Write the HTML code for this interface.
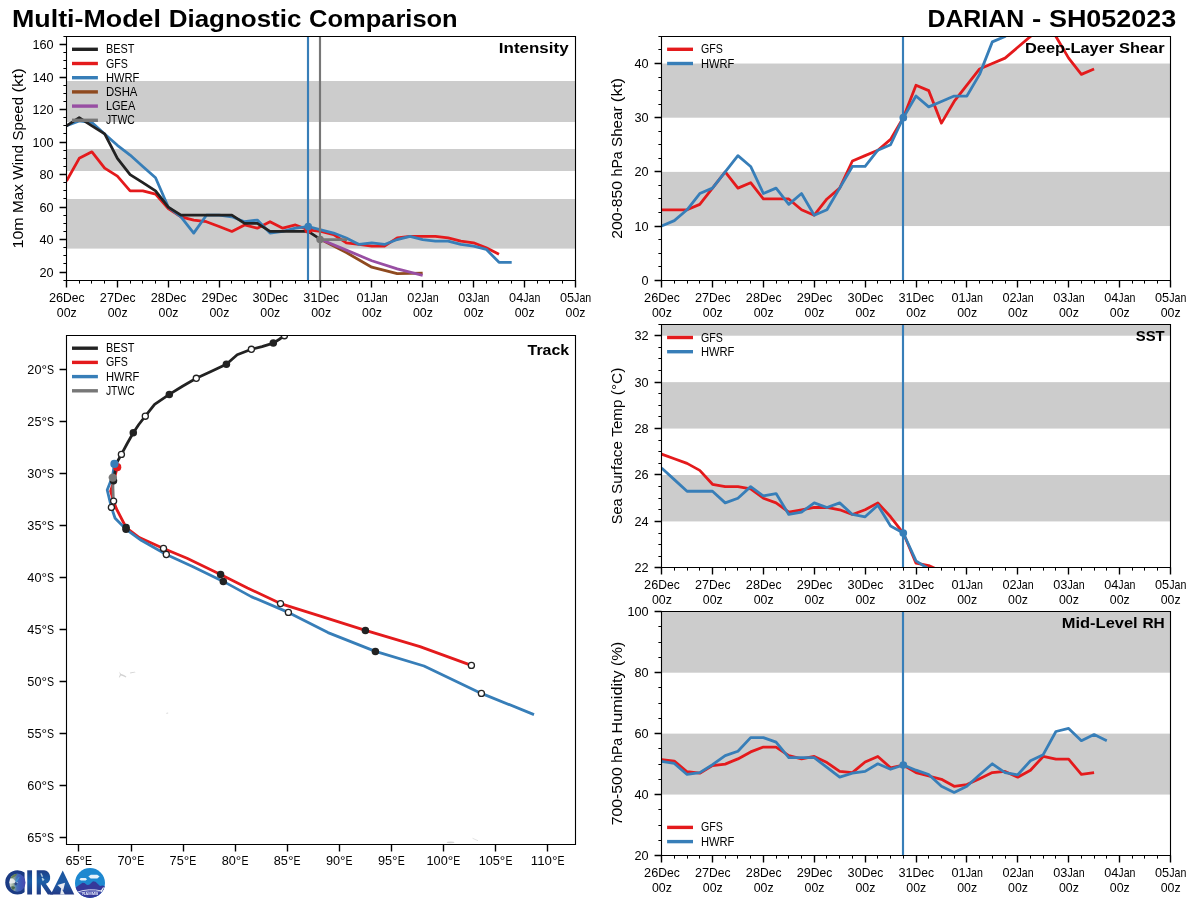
<!DOCTYPE html>
<html><head><meta charset="utf-8"><title>Multi-Model Diagnostic Comparison</title>
<style>html,body{margin:0;padding:0;background:#fff}svg{display:block;will-change:transform}text{font-family:"Liberation Sans",sans-serif}</style>
</head><body>
<svg width="1200" height="900" viewBox="0 0 1200 900">
<rect width="1200" height="900" fill="#fff"/>
<text y="27" font-size="23.55" font-weight="bold"><tspan x="12" textLength="148.98" lengthAdjust="spacingAndGlyphs">Multi-Model</tspan> <tspan x="168.72" textLength="132.69" lengthAdjust="spacingAndGlyphs">Diagnostic</tspan> <tspan x="309.14" textLength="148.52" lengthAdjust="spacingAndGlyphs">Comparison</tspan></text>
<text y="27" font-size="23.55" font-weight="bold"><tspan x="927.43" textLength="96.81" lengthAdjust="spacingAndGlyphs">DARIAN</tspan> <tspan x="1031.98" textLength="9.22" lengthAdjust="spacingAndGlyphs">-</tspan> <tspan x="1048.94" textLength="127.36" lengthAdjust="spacingAndGlyphs">SH052023</tspan></text>
<rect x="66.5" y="81" width="508.8" height="41" fill="#cccccc"/>
<rect x="66.5" y="149" width="508.8" height="22" fill="#cccccc"/>
<rect x="66.5" y="199" width="508.8" height="49.6" fill="#cccccc"/>
<clipPath id="c1"><rect x="66.5" y="36.45" width="508.8" height="243.75"/></clipPath>
<g clip-path="url(#c1)">
<polyline points="66.5,181.07 79.22,158.32 91.94,151.82 104.66,168.07 117.38,176.2 130.1,190.82 142.82,190.82 155.54,194.07 168.26,208.7 180.98,216.82 193.7,220.07 206.42,221.7 219.14,226.57 231.86,231.45 244.58,224.95 257.3,228.2 270.02,221.7 282.74,228.2 295.46,224.95 308.18,229.82 320.9,231.45 333.62,234.7 346.34,242.82 359.06,244.45 371.78,246.07 384.5,246.07 397.22,237.95 409.94,236.32 422.66,236.32 435.38,236.32 448.1,237.95 460.82,241.2 473.54,242.82 486.26,247.7 498.98,254.2" fill="none" stroke="#e41a1c" stroke-width="2.78" stroke-linecap="butt" stroke-linejoin="round"/>
<polyline points="66.5,125.82 79.22,120.95 91.94,122.57 104.66,133.95 117.38,145.32 130.1,155.07 142.82,166.45 155.54,177.82 168.26,207.07 180.98,216.82 193.7,233.07 206.42,215.2 219.14,215.2 231.86,216.82 244.58,221.7 257.3,220.07 270.02,233.07 282.74,231.45 295.46,228.2 308.18,226.57 320.9,229.82 333.62,233.07 346.34,237.95 359.06,244.45 371.78,242.82 384.5,244.45 397.22,239.57 409.94,236.32 422.66,239.57 435.38,241.2 448.1,241.2 460.82,244.45 473.54,246.07 486.26,249.32 498.98,262.32 511.7,262.32" fill="none" stroke="#377eb8" stroke-width="2.78" stroke-linecap="butt" stroke-linejoin="round"/>
<polyline points="320.9,239.57 346.34,252.57 371.78,267.2 397.22,273.7 422.66,273.21" fill="none" stroke="#8f4a1f" stroke-width="2.78" stroke-linecap="butt" stroke-linejoin="round"/>
<polyline points="320.9,239.57 346.34,250.14 371.78,260.7 397.22,268.82 422.66,275.32" fill="none" stroke="#984ea3" stroke-width="2.78" stroke-linecap="butt" stroke-linejoin="round"/>
<polyline points="66.5,125.82 79.22,117.7 91.94,125.82 104.66,133.95 117.38,158.32 130.1,174.57 142.82,182.7 155.54,190.82 168.26,207.07 180.98,215.2 193.7,215.2 206.42,215.2 219.14,215.2 231.86,215.2 244.58,223.32 257.3,223.32 270.02,231.45 282.74,231.45 295.46,231.45 308.18,231.45 320.9,239.57" fill="none" stroke="#222222" stroke-width="2.78" stroke-linecap="butt" stroke-linejoin="round"/>
<polyline points="320,239.57 347.14,239.57" fill="none" stroke="#777777" stroke-width="2.78" stroke-linecap="butt" stroke-linejoin="round"/>
<circle cx="308.2" cy="229.82" r="3.85" fill="#e41a1c"/>
<path d="M308 36.45V280.2" stroke="#377eb8" stroke-width="2.15" fill="none"/>
<path d="M320 36.45V280.2" stroke="#777777" stroke-width="2.15" fill="none"/>
<circle cx="308.2" cy="226.57" r="3.85" fill="#377eb8"/>
<circle cx="320.1" cy="239.57" r="3.8" fill="#777777"/>
</g>
<path d="M66.5 36.5H575.5V280.5H66.5Z" fill="none" stroke="#000" stroke-width="1.11" stroke-linejoin="miter"/>
<path d="M66.5 280.5v6.94M117.5 280.5v6.94M168.5 280.5v6.94M219.5 280.5v6.94M270.5 280.5v6.94M320.5 280.5v6.94M371.5 280.5v6.94M422.5 280.5v6.94M473.5 280.5v6.94M524.5 280.5v6.94M575.5 280.5v6.94" stroke="#000" stroke-width="1.39" fill="none"/>
<path d="M79.5 280.5v3.1M91.5 280.5v3.1M104.5 280.5v3.1M130.5 280.5v3.1M142.5 280.5v3.1M155.5 280.5v3.1M180.5 280.5v3.1M193.5 280.5v3.1M206.5 280.5v3.1M231.5 280.5v3.1M244.5 280.5v3.1M257.5 280.5v3.1M282.5 280.5v3.1M295.5 280.5v3.1M308.5 280.5v3.1M333.5 280.5v3.1M346.5 280.5v3.1M359.5 280.5v3.1M384.5 280.5v3.1M397.5 280.5v3.1M409.5 280.5v3.1M435.5 280.5v3.1M448.5 280.5v3.1M460.5 280.5v3.1M486.5 280.5v3.1M498.5 280.5v3.1M511.5 280.5v3.1M537.5 280.5v3.1M549.5 280.5v3.1M562.5 280.5v3.1" stroke="#000" stroke-width="1" fill="none"/>
<text y="301.8" font-size="12.26"><tspan x="48.99" textLength="14.13" lengthAdjust="spacingAndGlyphs">26</tspan><tspan x="63.12" textLength="21.49" lengthAdjust="spacingAndGlyphs">Dec</tspan></text>
<text x="56.82" y="316.7" font-size="12.26" textLength="19.96" lengthAdjust="spacingAndGlyphs">00z</text>
<text y="301.8" font-size="12.26"><tspan x="99.87" textLength="14.13" lengthAdjust="spacingAndGlyphs">27</tspan><tspan x="114" textLength="21.49" lengthAdjust="spacingAndGlyphs">Dec</tspan></text>
<text x="107.7" y="316.7" font-size="12.26" textLength="19.96" lengthAdjust="spacingAndGlyphs">00z</text>
<text y="301.8" font-size="12.26"><tspan x="150.75" textLength="14.13" lengthAdjust="spacingAndGlyphs">28</tspan><tspan x="164.88" textLength="21.49" lengthAdjust="spacingAndGlyphs">Dec</tspan></text>
<text x="158.58" y="316.7" font-size="12.26" textLength="19.96" lengthAdjust="spacingAndGlyphs">00z</text>
<text y="301.8" font-size="12.26"><tspan x="201.63" textLength="14.13" lengthAdjust="spacingAndGlyphs">29</tspan><tspan x="215.76" textLength="21.49" lengthAdjust="spacingAndGlyphs">Dec</tspan></text>
<text x="209.46" y="316.7" font-size="12.26" textLength="19.96" lengthAdjust="spacingAndGlyphs">00z</text>
<text y="301.8" font-size="12.26"><tspan x="252.51" textLength="14.13" lengthAdjust="spacingAndGlyphs">30</tspan><tspan x="266.64" textLength="21.49" lengthAdjust="spacingAndGlyphs">Dec</tspan></text>
<text x="260.34" y="316.7" font-size="12.26" textLength="19.96" lengthAdjust="spacingAndGlyphs">00z</text>
<text y="301.8" font-size="12.26"><tspan x="303.39" textLength="14.13" lengthAdjust="spacingAndGlyphs">31</tspan><tspan x="317.52" textLength="21.49" lengthAdjust="spacingAndGlyphs">Dec</tspan></text>
<text x="311.22" y="316.7" font-size="12.26" textLength="19.96" lengthAdjust="spacingAndGlyphs">00z</text>
<text y="301.8" font-size="12.26"><tspan x="356.45" textLength="14.13" lengthAdjust="spacingAndGlyphs">01</tspan><tspan x="370.59" textLength="17.12" lengthAdjust="spacingAndGlyphs">Jan</tspan></text>
<text x="362.1" y="316.7" font-size="12.26" textLength="19.96" lengthAdjust="spacingAndGlyphs">00z</text>
<text y="301.8" font-size="12.26"><tspan x="407.33" textLength="14.13" lengthAdjust="spacingAndGlyphs">02</tspan><tspan x="421.47" textLength="17.12" lengthAdjust="spacingAndGlyphs">Jan</tspan></text>
<text x="412.98" y="316.7" font-size="12.26" textLength="19.96" lengthAdjust="spacingAndGlyphs">00z</text>
<text y="301.8" font-size="12.26"><tspan x="458.21" textLength="14.13" lengthAdjust="spacingAndGlyphs">03</tspan><tspan x="472.35" textLength="17.12" lengthAdjust="spacingAndGlyphs">Jan</tspan></text>
<text x="463.86" y="316.7" font-size="12.26" textLength="19.96" lengthAdjust="spacingAndGlyphs">00z</text>
<text y="301.8" font-size="12.26"><tspan x="509.09" textLength="14.13" lengthAdjust="spacingAndGlyphs">04</tspan><tspan x="523.23" textLength="17.12" lengthAdjust="spacingAndGlyphs">Jan</tspan></text>
<text x="514.74" y="316.7" font-size="12.26" textLength="19.96" lengthAdjust="spacingAndGlyphs">00z</text>
<text y="301.8" font-size="12.26"><tspan x="559.97" textLength="14.13" lengthAdjust="spacingAndGlyphs">05</tspan><tspan x="574.11" textLength="17.12" lengthAdjust="spacingAndGlyphs">Jan</tspan></text>
<text x="565.62" y="316.7" font-size="12.26" textLength="19.96" lengthAdjust="spacingAndGlyphs">00z</text>
<path d="M66.5 272.5h-6.94M66.5 239.5h-6.94M66.5 207.5h-6.94M66.5 174.5h-6.94M66.5 142.5h-6.94M66.5 109.5h-6.94M66.5 77.5h-6.94M66.5 44.5h-6.94" stroke="#000" stroke-width="1.39" fill="none"/>
<path d="M66.5 280.5h-3.1M66.5 263.5h-3.1M66.5 255.5h-3.1M66.5 247.5h-3.1M66.5 231.5h-3.1M66.5 223.5h-3.1M66.5 215.5h-3.1M66.5 198.5h-3.1M66.5 190.5h-3.1M66.5 182.5h-3.1M66.5 166.5h-3.1M66.5 158.5h-3.1M66.5 150.5h-3.1M66.5 133.5h-3.1M66.5 125.5h-3.1M66.5 117.5h-3.1M66.5 101.5h-3.1M66.5 93.5h-3.1M66.5 85.5h-3.1M66.5 68.5h-3.1M66.5 60.5h-3.1M66.5 52.5h-3.1M66.5 36.5h-3.1" stroke="#000" stroke-width="1" fill="none"/>
<text x="39.47" y="276.75" font-size="12.26" textLength="14.13" lengthAdjust="spacingAndGlyphs">20</text>
<text x="39.47" y="243.75" font-size="12.26" textLength="14.13" lengthAdjust="spacingAndGlyphs">40</text>
<text x="39.47" y="211.75" font-size="12.26" textLength="14.13" lengthAdjust="spacingAndGlyphs">60</text>
<text x="39.47" y="178.75" font-size="12.26" textLength="14.13" lengthAdjust="spacingAndGlyphs">80</text>
<text x="32.4" y="146.75" font-size="12.26" textLength="21.2" lengthAdjust="spacingAndGlyphs">100</text>
<text x="32.4" y="113.75" font-size="12.26" textLength="21.2" lengthAdjust="spacingAndGlyphs">120</text>
<text x="32.4" y="81.75" font-size="12.26" textLength="21.2" lengthAdjust="spacingAndGlyphs">140</text>
<text x="32.4" y="48.75" font-size="12.26" textLength="21.2" lengthAdjust="spacingAndGlyphs">160</text>
<path d="M72 49.3h25.9" stroke="#222222" stroke-width="3.4" fill="none"/>
<text x="105.9" y="53.3" font-size="12.26" textLength="28.47" lengthAdjust="spacingAndGlyphs">BEST</text>
<path d="M72 63.5h25.9" stroke="#e41a1c" stroke-width="3.4" fill="none"/>
<text x="105.9" y="67.5" font-size="12.26" textLength="21.85" lengthAdjust="spacingAndGlyphs">GFS</text>
<path d="M72 77.7h25.9" stroke="#377eb8" stroke-width="3.4" fill="none"/>
<text x="105.9" y="81.7" font-size="12.26" textLength="33.44" lengthAdjust="spacingAndGlyphs">HWRF</text>
<path d="M72 91.9h25.9" stroke="#8f4a1f" stroke-width="3.4" fill="none"/>
<text x="105.9" y="95.9" font-size="12.26" textLength="31.55" lengthAdjust="spacingAndGlyphs">DSHA</text>
<path d="M72 106.1h25.9" stroke="#984ea3" stroke-width="3.4" fill="none"/>
<text x="105.9" y="110.1" font-size="12.26" textLength="29.41" lengthAdjust="spacingAndGlyphs">LGEA</text>
<path d="M72 120.3h25.9" stroke="#777777" stroke-width="3.4" fill="none"/>
<text x="105.9" y="124.3" font-size="12.26" textLength="28.8" lengthAdjust="spacingAndGlyphs">JTWC</text>
<text x="498.87" y="53.3" font-size="14.72" font-weight="bold" textLength="69.73" lengthAdjust="spacingAndGlyphs">Intensity</text>
<text y="248.51" font-size="14.72" transform="rotate(-90 22.9 248.51)"><tspan x="22.9" textLength="31.21" lengthAdjust="spacingAndGlyphs">10m</tspan> <tspan x="58.52" textLength="28.72" lengthAdjust="spacingAndGlyphs">Max</tspan> <tspan x="91.65" textLength="34.91" lengthAdjust="spacingAndGlyphs">Wind</tspan> <tspan x="130.98" textLength="43.54" lengthAdjust="spacingAndGlyphs">Speed</tspan> <tspan x="178.93" textLength="24.33" lengthAdjust="spacingAndGlyphs">(kt)</tspan></text>
<rect x="661.6" y="171.87" width="508.8" height="54.17" fill="#cccccc"/>
<rect x="661.6" y="63.53" width="508.8" height="54.17" fill="#cccccc"/>
<clipPath id="c2"><rect x="661.6" y="36.45" width="508.8" height="243.75"/></clipPath>
<g clip-path="url(#c2)">
<polyline points="661.6,209.78 674.32,209.78 687.04,209.78 699.76,204.37 712.48,188.12 725.2,171.87 737.92,188.12 750.64,182.7 763.36,198.95 776.08,198.95 788.8,198.95 801.52,209.78 814.24,215.2 826.96,198.95 839.68,188.12 852.4,161.03 865.12,155.62 877.84,150.2 890.56,139.37 903.28,117.7 916,85.2 928.72,90.62 941.44,123.12 954.16,101.45 966.88,85.2 979.6,68.95 992.32,63.53 1005.04,58.12 1017.76,47.28 1030.48,36.45 1043.2,25.62 1055.92,36.45 1068.64,58.12 1081.36,74.37 1094.08,68.95" fill="none" stroke="#e41a1c" stroke-width="2.78" stroke-linecap="butt" stroke-linejoin="round"/>
<polyline points="661.6,226.03 674.32,220.62 687.04,209.78 699.76,193.53 712.48,188.12 725.2,171.87 737.92,155.62 750.64,166.45 763.36,193.53 776.08,188.12 788.8,204.37 801.52,193.53 814.24,215.2 826.96,209.78 839.68,188.12 852.4,166.45 865.12,166.45 877.84,150.2 890.56,144.78 903.28,117.7 916,96.03 928.72,106.87 941.44,101.45 954.16,96.03 966.88,96.03 979.6,74.37 992.32,41.87 1005.04,36.45 1017.76,25.62 1030.48,20.2 1043.2,14.78 1055.92,9.37 1068.64,9.37 1081.36,14.78 1094.08,20.2 1106.8,25.62" fill="none" stroke="#377eb8" stroke-width="2.78" stroke-linecap="butt" stroke-linejoin="round"/>
<path d="M903 36.45V280.2" stroke="#377eb8" stroke-width="2.15" fill="none"/>
<circle cx="903.3" cy="117.7" r="3.85" fill="#377eb8"/>
</g>
<path d="M661.5 36.5H1170.5V280.5H661.5Z" fill="none" stroke="#000" stroke-width="1.11" stroke-linejoin="miter"/>
<path d="M661.5 280.5v6.94M712.5 280.5v6.94M763.5 280.5v6.94M814.5 280.5v6.94M865.5 280.5v6.94M916.5 280.5v6.94M966.5 280.5v6.94M1017.5 280.5v6.94M1068.5 280.5v6.94M1119.5 280.5v6.94M1170.5 280.5v6.94" stroke="#000" stroke-width="1.39" fill="none"/>
<path d="M674.5 280.5v3.1M687.5 280.5v3.1M699.5 280.5v3.1M725.5 280.5v3.1M737.5 280.5v3.1M750.5 280.5v3.1M776.5 280.5v3.1M788.5 280.5v3.1M801.5 280.5v3.1M826.5 280.5v3.1M839.5 280.5v3.1M852.5 280.5v3.1M877.5 280.5v3.1M890.5 280.5v3.1M903.5 280.5v3.1M928.5 280.5v3.1M941.5 280.5v3.1M954.5 280.5v3.1M979.5 280.5v3.1M992.5 280.5v3.1M1005.5 280.5v3.1M1030.5 280.5v3.1M1043.5 280.5v3.1M1055.5 280.5v3.1M1081.5 280.5v3.1M1094.5 280.5v3.1M1106.5 280.5v3.1M1132.5 280.5v3.1M1144.5 280.5v3.1M1157.5 280.5v3.1" stroke="#000" stroke-width="1" fill="none"/>
<text y="301.8" font-size="12.26"><tspan x="644.09" textLength="14.13" lengthAdjust="spacingAndGlyphs">26</tspan><tspan x="658.22" textLength="21.49" lengthAdjust="spacingAndGlyphs">Dec</tspan></text>
<text x="651.92" y="316.7" font-size="12.26" textLength="19.96" lengthAdjust="spacingAndGlyphs">00z</text>
<text y="301.8" font-size="12.26"><tspan x="694.97" textLength="14.13" lengthAdjust="spacingAndGlyphs">27</tspan><tspan x="709.1" textLength="21.49" lengthAdjust="spacingAndGlyphs">Dec</tspan></text>
<text x="702.8" y="316.7" font-size="12.26" textLength="19.96" lengthAdjust="spacingAndGlyphs">00z</text>
<text y="301.8" font-size="12.26"><tspan x="745.85" textLength="14.13" lengthAdjust="spacingAndGlyphs">28</tspan><tspan x="759.98" textLength="21.49" lengthAdjust="spacingAndGlyphs">Dec</tspan></text>
<text x="753.68" y="316.7" font-size="12.26" textLength="19.96" lengthAdjust="spacingAndGlyphs">00z</text>
<text y="301.8" font-size="12.26"><tspan x="796.73" textLength="14.13" lengthAdjust="spacingAndGlyphs">29</tspan><tspan x="810.86" textLength="21.49" lengthAdjust="spacingAndGlyphs">Dec</tspan></text>
<text x="804.56" y="316.7" font-size="12.26" textLength="19.96" lengthAdjust="spacingAndGlyphs">00z</text>
<text y="301.8" font-size="12.26"><tspan x="847.61" textLength="14.13" lengthAdjust="spacingAndGlyphs">30</tspan><tspan x="861.74" textLength="21.49" lengthAdjust="spacingAndGlyphs">Dec</tspan></text>
<text x="855.44" y="316.7" font-size="12.26" textLength="19.96" lengthAdjust="spacingAndGlyphs">00z</text>
<text y="301.8" font-size="12.26"><tspan x="898.49" textLength="14.13" lengthAdjust="spacingAndGlyphs">31</tspan><tspan x="912.62" textLength="21.49" lengthAdjust="spacingAndGlyphs">Dec</tspan></text>
<text x="906.32" y="316.7" font-size="12.26" textLength="19.96" lengthAdjust="spacingAndGlyphs">00z</text>
<text y="301.8" font-size="12.26"><tspan x="951.55" textLength="14.13" lengthAdjust="spacingAndGlyphs">01</tspan><tspan x="965.69" textLength="17.12" lengthAdjust="spacingAndGlyphs">Jan</tspan></text>
<text x="957.2" y="316.7" font-size="12.26" textLength="19.96" lengthAdjust="spacingAndGlyphs">00z</text>
<text y="301.8" font-size="12.26"><tspan x="1002.43" textLength="14.13" lengthAdjust="spacingAndGlyphs">02</tspan><tspan x="1016.57" textLength="17.12" lengthAdjust="spacingAndGlyphs">Jan</tspan></text>
<text x="1008.08" y="316.7" font-size="12.26" textLength="19.96" lengthAdjust="spacingAndGlyphs">00z</text>
<text y="301.8" font-size="12.26"><tspan x="1053.31" textLength="14.13" lengthAdjust="spacingAndGlyphs">03</tspan><tspan x="1067.45" textLength="17.12" lengthAdjust="spacingAndGlyphs">Jan</tspan></text>
<text x="1058.96" y="316.7" font-size="12.26" textLength="19.96" lengthAdjust="spacingAndGlyphs">00z</text>
<text y="301.8" font-size="12.26"><tspan x="1104.19" textLength="14.13" lengthAdjust="spacingAndGlyphs">04</tspan><tspan x="1118.33" textLength="17.12" lengthAdjust="spacingAndGlyphs">Jan</tspan></text>
<text x="1109.84" y="316.7" font-size="12.26" textLength="19.96" lengthAdjust="spacingAndGlyphs">00z</text>
<text y="301.8" font-size="12.26"><tspan x="1155.07" textLength="14.13" lengthAdjust="spacingAndGlyphs">05</tspan><tspan x="1169.21" textLength="17.12" lengthAdjust="spacingAndGlyphs">Jan</tspan></text>
<text x="1160.72" y="316.7" font-size="12.26" textLength="19.96" lengthAdjust="spacingAndGlyphs">00z</text>
<path d="M661.5 280.5h-6.94M661.5 226.5h-6.94M661.5 171.5h-6.94M661.5 117.5h-6.94M661.5 63.5h-6.94" stroke="#000" stroke-width="1.39" fill="none"/>
<path d="M661.5 266.5h-3.1M661.5 253.5h-3.1M661.5 239.5h-3.1M661.5 212.5h-3.1M661.5 198.5h-3.1M661.5 185.5h-3.1M661.5 158.5h-3.1M661.5 144.5h-3.1M661.5 131.5h-3.1M661.5 104.5h-3.1M661.5 90.5h-3.1M661.5 77.5h-3.1M661.5 49.5h-3.1M661.5 36.5h-3.1" stroke="#000" stroke-width="1" fill="none"/>
<text x="641.53" y="284.75" font-size="12.26" textLength="7.07" lengthAdjust="spacingAndGlyphs">0</text>
<text x="634.47" y="230.75" font-size="12.26" textLength="14.13" lengthAdjust="spacingAndGlyphs">10</text>
<text x="634.47" y="175.75" font-size="12.26" textLength="14.13" lengthAdjust="spacingAndGlyphs">20</text>
<text x="634.47" y="121.75" font-size="12.26" textLength="14.13" lengthAdjust="spacingAndGlyphs">30</text>
<text x="634.47" y="67.75" font-size="12.26" textLength="14.13" lengthAdjust="spacingAndGlyphs">40</text>
<path d="M667.1 49.3h25.9" stroke="#e41a1c" stroke-width="3.4" fill="none"/>
<text x="701" y="53.3" font-size="12.26" textLength="21.85" lengthAdjust="spacingAndGlyphs">GFS</text>
<path d="M667.1 63.5h25.9" stroke="#377eb8" stroke-width="3.4" fill="none"/>
<text x="701" y="67.5" font-size="12.26" textLength="33.44" lengthAdjust="spacingAndGlyphs">HWRF</text>
<text y="53.3" font-size="14.72" font-weight="bold"><tspan x="1025.03" textLength="89.2" lengthAdjust="spacingAndGlyphs">Deep-Layer</tspan> <tspan x="1119.06" textLength="45.54" lengthAdjust="spacingAndGlyphs">Shear</tspan></text>
<text y="238.86" font-size="14.72" transform="rotate(-90 622.3 238.86)"><tspan x="622.3" textLength="58.04" lengthAdjust="spacingAndGlyphs">200-850</tspan> <tspan x="684.75" textLength="25.07" lengthAdjust="spacingAndGlyphs">hPa</tspan> <tspan x="714.24" textLength="40.39" lengthAdjust="spacingAndGlyphs">Shear</tspan> <tspan x="759.04" textLength="24.33" lengthAdjust="spacingAndGlyphs">(kt)</tspan></text>
<rect x="661.6" y="474.99" width="508.8" height="46.43" fill="#cccccc"/>
<rect x="661.6" y="382.14" width="508.8" height="46.43" fill="#cccccc"/>
<rect x="661.6" y="324.1" width="508.8" height="11.61" fill="#cccccc"/>
<clipPath id="c3"><rect x="661.6" y="324.1" width="508.8" height="243.75"/></clipPath>
<g clip-path="url(#c3)">
<polyline points="661.6,454.1 674.32,458.74 687.04,463.39 699.76,470.35 712.48,484.28 725.2,486.6 737.92,486.6 750.64,488.92 763.36,498.21 776.08,502.85 788.8,512.14 801.52,509.81 814.24,507.49 826.96,507.49 839.68,509.81 852.4,514.46 865.12,509.81 877.84,502.85 890.56,516.78 903.28,533.03 916,563.21 928.72,565.53 941.44,571.33 954.16,579.46" fill="none" stroke="#e41a1c" stroke-width="2.78" stroke-linecap="butt" stroke-linejoin="round"/>
<polyline points="661.6,468.03 674.32,479.64 687.04,491.24 699.76,491.24 712.48,491.24 725.2,502.85 737.92,498.21 750.64,486.6 763.36,495.89 776.08,493.56 788.8,514.46 801.52,512.14 814.24,502.85 826.96,507.49 839.68,502.85 852.4,514.46 865.12,516.78 877.84,505.17 890.56,526.06 903.28,533.03 916,560.89 928.72,569.01 941.44,579.46" fill="none" stroke="#377eb8" stroke-width="2.78" stroke-linecap="butt" stroke-linejoin="round"/>
<path d="M903 324.1V567.85" stroke="#377eb8" stroke-width="2.15" fill="none"/>
<circle cx="903.3" cy="533.03" r="3.85" fill="#377eb8"/>
</g>
<path d="M661.5 324.5H1170.5V567.5H661.5Z" fill="none" stroke="#000" stroke-width="1.11" stroke-linejoin="miter"/>
<path d="M661.5 567.5v6.94M712.5 567.5v6.94M763.5 567.5v6.94M814.5 567.5v6.94M865.5 567.5v6.94M916.5 567.5v6.94M966.5 567.5v6.94M1017.5 567.5v6.94M1068.5 567.5v6.94M1119.5 567.5v6.94M1170.5 567.5v6.94" stroke="#000" stroke-width="1.39" fill="none"/>
<path d="M674.5 567.5v3.1M687.5 567.5v3.1M699.5 567.5v3.1M725.5 567.5v3.1M737.5 567.5v3.1M750.5 567.5v3.1M776.5 567.5v3.1M788.5 567.5v3.1M801.5 567.5v3.1M826.5 567.5v3.1M839.5 567.5v3.1M852.5 567.5v3.1M877.5 567.5v3.1M890.5 567.5v3.1M903.5 567.5v3.1M928.5 567.5v3.1M941.5 567.5v3.1M954.5 567.5v3.1M979.5 567.5v3.1M992.5 567.5v3.1M1005.5 567.5v3.1M1030.5 567.5v3.1M1043.5 567.5v3.1M1055.5 567.5v3.1M1081.5 567.5v3.1M1094.5 567.5v3.1M1106.5 567.5v3.1M1132.5 567.5v3.1M1144.5 567.5v3.1M1157.5 567.5v3.1" stroke="#000" stroke-width="1" fill="none"/>
<text y="588.8" font-size="12.26"><tspan x="644.09" textLength="14.13" lengthAdjust="spacingAndGlyphs">26</tspan><tspan x="658.22" textLength="21.49" lengthAdjust="spacingAndGlyphs">Dec</tspan></text>
<text x="651.92" y="603.7" font-size="12.26" textLength="19.96" lengthAdjust="spacingAndGlyphs">00z</text>
<text y="588.8" font-size="12.26"><tspan x="694.97" textLength="14.13" lengthAdjust="spacingAndGlyphs">27</tspan><tspan x="709.1" textLength="21.49" lengthAdjust="spacingAndGlyphs">Dec</tspan></text>
<text x="702.8" y="603.7" font-size="12.26" textLength="19.96" lengthAdjust="spacingAndGlyphs">00z</text>
<text y="588.8" font-size="12.26"><tspan x="745.85" textLength="14.13" lengthAdjust="spacingAndGlyphs">28</tspan><tspan x="759.98" textLength="21.49" lengthAdjust="spacingAndGlyphs">Dec</tspan></text>
<text x="753.68" y="603.7" font-size="12.26" textLength="19.96" lengthAdjust="spacingAndGlyphs">00z</text>
<text y="588.8" font-size="12.26"><tspan x="796.73" textLength="14.13" lengthAdjust="spacingAndGlyphs">29</tspan><tspan x="810.86" textLength="21.49" lengthAdjust="spacingAndGlyphs">Dec</tspan></text>
<text x="804.56" y="603.7" font-size="12.26" textLength="19.96" lengthAdjust="spacingAndGlyphs">00z</text>
<text y="588.8" font-size="12.26"><tspan x="847.61" textLength="14.13" lengthAdjust="spacingAndGlyphs">30</tspan><tspan x="861.74" textLength="21.49" lengthAdjust="spacingAndGlyphs">Dec</tspan></text>
<text x="855.44" y="603.7" font-size="12.26" textLength="19.96" lengthAdjust="spacingAndGlyphs">00z</text>
<text y="588.8" font-size="12.26"><tspan x="898.49" textLength="14.13" lengthAdjust="spacingAndGlyphs">31</tspan><tspan x="912.62" textLength="21.49" lengthAdjust="spacingAndGlyphs">Dec</tspan></text>
<text x="906.32" y="603.7" font-size="12.26" textLength="19.96" lengthAdjust="spacingAndGlyphs">00z</text>
<text y="588.8" font-size="12.26"><tspan x="951.55" textLength="14.13" lengthAdjust="spacingAndGlyphs">01</tspan><tspan x="965.69" textLength="17.12" lengthAdjust="spacingAndGlyphs">Jan</tspan></text>
<text x="957.2" y="603.7" font-size="12.26" textLength="19.96" lengthAdjust="spacingAndGlyphs">00z</text>
<text y="588.8" font-size="12.26"><tspan x="1002.43" textLength="14.13" lengthAdjust="spacingAndGlyphs">02</tspan><tspan x="1016.57" textLength="17.12" lengthAdjust="spacingAndGlyphs">Jan</tspan></text>
<text x="1008.08" y="603.7" font-size="12.26" textLength="19.96" lengthAdjust="spacingAndGlyphs">00z</text>
<text y="588.8" font-size="12.26"><tspan x="1053.31" textLength="14.13" lengthAdjust="spacingAndGlyphs">03</tspan><tspan x="1067.45" textLength="17.12" lengthAdjust="spacingAndGlyphs">Jan</tspan></text>
<text x="1058.96" y="603.7" font-size="12.26" textLength="19.96" lengthAdjust="spacingAndGlyphs">00z</text>
<text y="588.8" font-size="12.26"><tspan x="1104.19" textLength="14.13" lengthAdjust="spacingAndGlyphs">04</tspan><tspan x="1118.33" textLength="17.12" lengthAdjust="spacingAndGlyphs">Jan</tspan></text>
<text x="1109.84" y="603.7" font-size="12.26" textLength="19.96" lengthAdjust="spacingAndGlyphs">00z</text>
<text y="588.8" font-size="12.26"><tspan x="1155.07" textLength="14.13" lengthAdjust="spacingAndGlyphs">05</tspan><tspan x="1169.21" textLength="17.12" lengthAdjust="spacingAndGlyphs">Jan</tspan></text>
<text x="1160.72" y="603.7" font-size="12.26" textLength="19.96" lengthAdjust="spacingAndGlyphs">00z</text>
<path d="M661.5 567.5h-6.94M661.5 521.5h-6.94M661.5 474.5h-6.94M661.5 428.5h-6.94M661.5 382.5h-6.94M661.5 335.5h-6.94" stroke="#000" stroke-width="1.39" fill="none"/>
<path d="M661.5 556.5h-3.1M661.5 544.5h-3.1M661.5 533.5h-3.1M661.5 509.5h-3.1M661.5 498.5h-3.1M661.5 486.5h-3.1M661.5 463.5h-3.1M661.5 451.5h-3.1M661.5 440.5h-3.1M661.5 416.5h-3.1M661.5 405.5h-3.1M661.5 393.5h-3.1M661.5 370.5h-3.1M661.5 358.5h-3.1M661.5 347.5h-3.1M661.5 324.5h-3.1" stroke="#000" stroke-width="1" fill="none"/>
<text x="634.47" y="571.75" font-size="12.26" textLength="14.13" lengthAdjust="spacingAndGlyphs">22</text>
<text x="634.47" y="525.75" font-size="12.26" textLength="14.13" lengthAdjust="spacingAndGlyphs">24</text>
<text x="634.47" y="478.75" font-size="12.26" textLength="14.13" lengthAdjust="spacingAndGlyphs">26</text>
<text x="634.47" y="432.75" font-size="12.26" textLength="14.13" lengthAdjust="spacingAndGlyphs">28</text>
<text x="634.47" y="386.75" font-size="12.26" textLength="14.13" lengthAdjust="spacingAndGlyphs">30</text>
<text x="634.47" y="339.75" font-size="12.26" textLength="14.13" lengthAdjust="spacingAndGlyphs">32</text>
<path d="M667.1 337.5h25.9" stroke="#e41a1c" stroke-width="3.4" fill="none"/>
<text x="701" y="341.5" font-size="12.26" textLength="21.85" lengthAdjust="spacingAndGlyphs">GFS</text>
<path d="M667.1 351.7h25.9" stroke="#377eb8" stroke-width="3.4" fill="none"/>
<text x="701" y="355.7" font-size="12.26" textLength="33.44" lengthAdjust="spacingAndGlyphs">HWRF</text>
<text x="1135.74" y="341" font-size="14.72" font-weight="bold" textLength="28.86" lengthAdjust="spacingAndGlyphs">SST</text>
<text y="524.24" font-size="14.72" transform="rotate(-90 622.3 524.24)"><tspan x="622.3" textLength="25.87" lengthAdjust="spacingAndGlyphs">Sea</tspan> <tspan x="652.59" textLength="52.92" lengthAdjust="spacingAndGlyphs">Surface</tspan> <tspan x="709.92" textLength="37.02" lengthAdjust="spacingAndGlyphs">Temp</tspan> <tspan x="751.36" textLength="27.48" lengthAdjust="spacingAndGlyphs">(°C)</tspan></text>
<rect x="661.6" y="733.62" width="508.8" height="60.94" fill="#cccccc"/>
<rect x="661.6" y="611.75" width="508.8" height="60.94" fill="#cccccc"/>
<clipPath id="c4"><rect x="661.6" y="611.75" width="508.8" height="243.75"/></clipPath>
<g clip-path="url(#c4)">
<polyline points="661.6,759.52 674.32,761.05 687.04,771.71 699.76,773.23 712.48,765.62 725.2,764.09 737.92,758.91 750.64,751.91 763.36,747.03 776.08,747.03 788.8,755.56 801.52,758.91 814.24,756.48 826.96,762.57 839.68,771.41 852.4,772.62 865.12,761.96 877.84,756.48 890.56,767.75 903.28,765.01 916,772.62 928.72,775.98 941.44,779.33 954.16,786.34 966.88,784.51 979.6,778.72 992.32,772.62 1005.04,771.41 1017.76,777.2 1030.48,770.19 1043.2,756.48 1055.92,759.22 1068.64,759.22 1081.36,774.45 1094.08,772.62" fill="none" stroke="#e41a1c" stroke-width="2.78" stroke-linecap="butt" stroke-linejoin="round"/>
<polyline points="661.6,761.35 674.32,763.48 687.04,774.45 699.76,772.62 712.48,764.7 725.2,755.56 737.92,751.3 750.64,737.59 763.36,737.59 776.08,742.16 788.8,757.7 801.52,757.7 814.24,757.7 826.96,767.45 839.68,777.2 852.4,773.23 865.12,771.41 877.84,763.79 890.56,769.27 903.28,765.01 916,770.19 928.72,774.45 941.44,786.34 954.16,792.43 966.88,786.34 979.6,774.76 992.32,763.79 1005.04,772.62 1017.76,774.76 1030.48,760.74 1043.2,754.65 1055.92,731.49 1068.64,728.45 1081.36,740.63 1094.08,734.54 1106.8,740.63" fill="none" stroke="#377eb8" stroke-width="2.78" stroke-linecap="butt" stroke-linejoin="round"/>
<path d="M903 611.75V855.5" stroke="#377eb8" stroke-width="2.15" fill="none"/>
<circle cx="903.3" cy="765.01" r="3.85" fill="#377eb8"/>
</g>
<path d="M661.5 611.5H1170.5V855.5H661.5Z" fill="none" stroke="#000" stroke-width="1.11" stroke-linejoin="miter"/>
<path d="M661.5 855.5v6.94M712.5 855.5v6.94M763.5 855.5v6.94M814.5 855.5v6.94M865.5 855.5v6.94M916.5 855.5v6.94M966.5 855.5v6.94M1017.5 855.5v6.94M1068.5 855.5v6.94M1119.5 855.5v6.94M1170.5 855.5v6.94" stroke="#000" stroke-width="1.39" fill="none"/>
<path d="M674.5 855.5v3.1M687.5 855.5v3.1M699.5 855.5v3.1M725.5 855.5v3.1M737.5 855.5v3.1M750.5 855.5v3.1M776.5 855.5v3.1M788.5 855.5v3.1M801.5 855.5v3.1M826.5 855.5v3.1M839.5 855.5v3.1M852.5 855.5v3.1M877.5 855.5v3.1M890.5 855.5v3.1M903.5 855.5v3.1M928.5 855.5v3.1M941.5 855.5v3.1M954.5 855.5v3.1M979.5 855.5v3.1M992.5 855.5v3.1M1005.5 855.5v3.1M1030.5 855.5v3.1M1043.5 855.5v3.1M1055.5 855.5v3.1M1081.5 855.5v3.1M1094.5 855.5v3.1M1106.5 855.5v3.1M1132.5 855.5v3.1M1144.5 855.5v3.1M1157.5 855.5v3.1" stroke="#000" stroke-width="1" fill="none"/>
<text y="876.8" font-size="12.26"><tspan x="644.09" textLength="14.13" lengthAdjust="spacingAndGlyphs">26</tspan><tspan x="658.22" textLength="21.49" lengthAdjust="spacingAndGlyphs">Dec</tspan></text>
<text x="651.92" y="891.7" font-size="12.26" textLength="19.96" lengthAdjust="spacingAndGlyphs">00z</text>
<text y="876.8" font-size="12.26"><tspan x="694.97" textLength="14.13" lengthAdjust="spacingAndGlyphs">27</tspan><tspan x="709.1" textLength="21.49" lengthAdjust="spacingAndGlyphs">Dec</tspan></text>
<text x="702.8" y="891.7" font-size="12.26" textLength="19.96" lengthAdjust="spacingAndGlyphs">00z</text>
<text y="876.8" font-size="12.26"><tspan x="745.85" textLength="14.13" lengthAdjust="spacingAndGlyphs">28</tspan><tspan x="759.98" textLength="21.49" lengthAdjust="spacingAndGlyphs">Dec</tspan></text>
<text x="753.68" y="891.7" font-size="12.26" textLength="19.96" lengthAdjust="spacingAndGlyphs">00z</text>
<text y="876.8" font-size="12.26"><tspan x="796.73" textLength="14.13" lengthAdjust="spacingAndGlyphs">29</tspan><tspan x="810.86" textLength="21.49" lengthAdjust="spacingAndGlyphs">Dec</tspan></text>
<text x="804.56" y="891.7" font-size="12.26" textLength="19.96" lengthAdjust="spacingAndGlyphs">00z</text>
<text y="876.8" font-size="12.26"><tspan x="847.61" textLength="14.13" lengthAdjust="spacingAndGlyphs">30</tspan><tspan x="861.74" textLength="21.49" lengthAdjust="spacingAndGlyphs">Dec</tspan></text>
<text x="855.44" y="891.7" font-size="12.26" textLength="19.96" lengthAdjust="spacingAndGlyphs">00z</text>
<text y="876.8" font-size="12.26"><tspan x="898.49" textLength="14.13" lengthAdjust="spacingAndGlyphs">31</tspan><tspan x="912.62" textLength="21.49" lengthAdjust="spacingAndGlyphs">Dec</tspan></text>
<text x="906.32" y="891.7" font-size="12.26" textLength="19.96" lengthAdjust="spacingAndGlyphs">00z</text>
<text y="876.8" font-size="12.26"><tspan x="951.55" textLength="14.13" lengthAdjust="spacingAndGlyphs">01</tspan><tspan x="965.69" textLength="17.12" lengthAdjust="spacingAndGlyphs">Jan</tspan></text>
<text x="957.2" y="891.7" font-size="12.26" textLength="19.96" lengthAdjust="spacingAndGlyphs">00z</text>
<text y="876.8" font-size="12.26"><tspan x="1002.43" textLength="14.13" lengthAdjust="spacingAndGlyphs">02</tspan><tspan x="1016.57" textLength="17.12" lengthAdjust="spacingAndGlyphs">Jan</tspan></text>
<text x="1008.08" y="891.7" font-size="12.26" textLength="19.96" lengthAdjust="spacingAndGlyphs">00z</text>
<text y="876.8" font-size="12.26"><tspan x="1053.31" textLength="14.13" lengthAdjust="spacingAndGlyphs">03</tspan><tspan x="1067.45" textLength="17.12" lengthAdjust="spacingAndGlyphs">Jan</tspan></text>
<text x="1058.96" y="891.7" font-size="12.26" textLength="19.96" lengthAdjust="spacingAndGlyphs">00z</text>
<text y="876.8" font-size="12.26"><tspan x="1104.19" textLength="14.13" lengthAdjust="spacingAndGlyphs">04</tspan><tspan x="1118.33" textLength="17.12" lengthAdjust="spacingAndGlyphs">Jan</tspan></text>
<text x="1109.84" y="891.7" font-size="12.26" textLength="19.96" lengthAdjust="spacingAndGlyphs">00z</text>
<text y="876.8" font-size="12.26"><tspan x="1155.07" textLength="14.13" lengthAdjust="spacingAndGlyphs">05</tspan><tspan x="1169.21" textLength="17.12" lengthAdjust="spacingAndGlyphs">Jan</tspan></text>
<text x="1160.72" y="891.7" font-size="12.26" textLength="19.96" lengthAdjust="spacingAndGlyphs">00z</text>
<path d="M661.5 855.5h-6.94M661.5 794.5h-6.94M661.5 733.5h-6.94M661.5 672.5h-6.94M661.5 611.5h-6.94" stroke="#000" stroke-width="1.39" fill="none"/>
<path d="M661.5 840.5h-3.1M661.5 825.5h-3.1M661.5 809.5h-3.1M661.5 779.5h-3.1M661.5 764.5h-3.1M661.5 748.5h-3.1M661.5 718.5h-3.1M661.5 703.5h-3.1M661.5 687.5h-3.1M661.5 657.5h-3.1M661.5 642.5h-3.1M661.5 626.5h-3.1" stroke="#000" stroke-width="1" fill="none"/>
<text x="634.47" y="859.75" font-size="12.26" textLength="14.13" lengthAdjust="spacingAndGlyphs">20</text>
<text x="634.47" y="798.75" font-size="12.26" textLength="14.13" lengthAdjust="spacingAndGlyphs">40</text>
<text x="634.47" y="737.75" font-size="12.26" textLength="14.13" lengthAdjust="spacingAndGlyphs">60</text>
<text x="634.47" y="676.75" font-size="12.26" textLength="14.13" lengthAdjust="spacingAndGlyphs">80</text>
<text x="627.4" y="615.75" font-size="12.26" textLength="21.2" lengthAdjust="spacingAndGlyphs">100</text>
<path d="M667.1 827.4h25.9" stroke="#e41a1c" stroke-width="3.4" fill="none"/>
<text x="701" y="831.4" font-size="12.26" textLength="21.85" lengthAdjust="spacingAndGlyphs">GFS</text>
<path d="M667.1 841.6h25.9" stroke="#377eb8" stroke-width="3.4" fill="none"/>
<text x="701" y="845.6" font-size="12.26" textLength="33.44" lengthAdjust="spacingAndGlyphs">HWRF</text>
<text y="627.9" font-size="14.72" font-weight="bold"><tspan x="1061.84" textLength="75.8" lengthAdjust="spacingAndGlyphs">Mid-Level</tspan> <tspan x="1142.48" textLength="22.32" lengthAdjust="spacingAndGlyphs">RH</tspan></text>
<text y="825.31" font-size="14.72" transform="rotate(-90 622.3 825.31)"><tspan x="622.3" textLength="58.04" lengthAdjust="spacingAndGlyphs">700-500</tspan> <tspan x="684.75" textLength="25.07" lengthAdjust="spacingAndGlyphs">hPa</tspan> <tspan x="714.24" textLength="62.98" lengthAdjust="spacingAndGlyphs">Humidity</tspan> <tspan x="781.63" textLength="24.04" lengthAdjust="spacingAndGlyphs">(%)</tspan></text>
<clipPath id="c5"><rect x="66.5" y="335.3" width="508.8" height="509.1"/></clipPath>
<g clip-path="url(#c5)">
<path d="M119.3 671.5l1.5 2.3l3.2 1.2l2.4 1.6l-.6 .8l-2.6-1.2l-2.3-.6l-1.3 2l-.8-.4l1.2-2.5zM130 672.6l4.5-.8l1.2 .5l-5.4 1.2z" fill="#c4c4c4" opacity="0.75"/>
<path d="M166.2 713.1l1.8-.5l.2 .8l-1.8 .4z" fill="#c4c4c4" opacity="0.7"/>
<ellipse cx="450.6" cy="842.3" rx="3.8" ry="0.9" fill="#c8c8c8" opacity="0.8"/>
<path d="M472.5 838.2l2.5 1.2l3 1.3" stroke="#dcdcdc" stroke-width="0.8" fill="none"/>
<polyline points="117.2,467.2 114,480.5 110.6,491.1 113.6,501.1 116.3,508.5 126.1,527.5 139.3,537.6 163.5,548.4 187,558.3 220.6,574.4 247.5,588 280.5,603.6 322,616.6 365.4,630.4 420,646.6 471.4,665.4" fill="none" stroke="#e41a1c" stroke-width="2.78" stroke-linecap="butt" stroke-linejoin="round"/>
<polyline points="114.4,463.9 112.5,476.5 107.2,490 111.4,507.4 115.1,518.3 126.1,529.3 141.2,540.3 166.3,554.5 192.5,566.4 223.3,581.4 251.2,596.6 288.4,612.4 328,632.6 375.4,651.4 424,666 481.4,693.4 534,714.6" fill="none" stroke="#377eb8" stroke-width="2.78" stroke-linecap="butt" stroke-linejoin="round"/>
<polyline points="296,327 284.4,335.7 279,339.5 273.3,343.1 262,346.6 251.4,349.3 237.2,354.8 226.4,364.3 211,371.6 196.3,378.3 182.5,386.2 169.3,394.4 154.6,404.4 145.3,416.2 138.8,424.5 133.3,432.7 127.2,443.5 121.4,454.4 116.3,463.5 113.5,480.8" fill="none" stroke="#222222" stroke-width="2.78" stroke-linecap="butt" stroke-linejoin="round"/>
<polyline points="112.8,477.8 113,489 113.4,500.5" fill="none" stroke="#777777" stroke-width="2.78" stroke-linecap="butt" stroke-linejoin="round"/>
<circle cx="117.2" cy="467.2" r="4.1" fill="#e41a1c"/>
<circle cx="114.4" cy="463.9" r="4.1" fill="#377eb8"/>
<circle cx="273.3" cy="343.1" r="3.75" fill="#222222"/>
<circle cx="226.4" cy="364.3" r="3.75" fill="#222222"/>
<circle cx="169.3" cy="394.4" r="3.75" fill="#222222"/>
<circle cx="133.3" cy="432.7" r="3.75" fill="#222222"/>
<circle cx="113.5" cy="480.8" r="3.75" fill="#222222"/>
<circle cx="126.1" cy="527.6" r="3.75" fill="#222222"/>
<circle cx="126" cy="529.2" r="3.75" fill="#222222"/>
<circle cx="220.6" cy="574.4" r="3.75" fill="#222222"/>
<circle cx="223.3" cy="581.4" r="3.75" fill="#222222"/>
<circle cx="365.4" cy="630.4" r="3.75" fill="#222222"/>
<circle cx="375.4" cy="651.4" r="3.75" fill="#222222"/>
<circle cx="284.4" cy="335.7" r="3.05" fill="#fff" stroke="#222222" stroke-width="1.3"/>
<circle cx="251.4" cy="349.3" r="3.05" fill="#fff" stroke="#222222" stroke-width="1.3"/>
<circle cx="196.3" cy="378.3" r="3.05" fill="#fff" stroke="#222222" stroke-width="1.3"/>
<circle cx="145.3" cy="416.2" r="3.05" fill="#fff" stroke="#222222" stroke-width="1.3"/>
<circle cx="121.4" cy="454.4" r="3.05" fill="#fff" stroke="#222222" stroke-width="1.3"/>
<circle cx="113.6" cy="501.1" r="3.05" fill="#fff" stroke="#222222" stroke-width="1.3"/>
<circle cx="111.4" cy="507.4" r="3.05" fill="#fff" stroke="#222222" stroke-width="1.3"/>
<circle cx="163.5" cy="548.4" r="3.05" fill="#fff" stroke="#222222" stroke-width="1.3"/>
<circle cx="166.3" cy="554.5" r="3.05" fill="#fff" stroke="#222222" stroke-width="1.3"/>
<circle cx="280.5" cy="603.6" r="3.05" fill="#fff" stroke="#222222" stroke-width="1.3"/>
<circle cx="288.4" cy="612.4" r="3.05" fill="#fff" stroke="#222222" stroke-width="1.3"/>
<circle cx="471.4" cy="665.4" r="3.05" fill="#fff" stroke="#222222" stroke-width="1.3"/>
<circle cx="481.4" cy="693.4" r="3.05" fill="#fff" stroke="#222222" stroke-width="1.3"/>
<circle cx="112.8" cy="477.6" r="4.2" fill="#777777"/>
</g>
<path d="M66.5 335.5H575.5V844.5H66.5Z" fill="none" stroke="#000" stroke-width="1.11" stroke-linejoin="miter"/>
<path d="M78.5 844.5v6.94M131.5 844.5v6.94M183.5 844.5v6.94M235.5 844.5v6.94M287.5 844.5v6.94M339.5 844.5v6.94M391.5 844.5v6.94M443.5 844.5v6.94M495.5 844.5v6.94M547.5 844.5v6.94M66.5 369.5h-6.94M66.5 421.5h-6.94M66.5 473.5h-6.94M66.5 525.5h-6.94M66.5 577.5h-6.94M66.5 629.5h-6.94M66.5 681.5h-6.94M66.5 733.5h-6.94M66.5 785.5h-6.94M66.5 837.5h-6.94" stroke="#000" stroke-width="1.39" fill="none"/>
<text y="864.6" font-size="12.26"><tspan x="65.4" textLength="14.13" lengthAdjust="spacingAndGlyphs">65</tspan><tspan x="79.53" textLength="5.55" lengthAdjust="spacingAndGlyphs">°</tspan><tspan x="85.08" textLength="7.02" lengthAdjust="spacingAndGlyphs">E</tspan></text>
<text y="864.6" font-size="12.26"><tspan x="117.5" textLength="14.13" lengthAdjust="spacingAndGlyphs">70</tspan><tspan x="131.63" textLength="5.55" lengthAdjust="spacingAndGlyphs">°</tspan><tspan x="137.18" textLength="7.02" lengthAdjust="spacingAndGlyphs">E</tspan></text>
<text y="864.6" font-size="12.26"><tspan x="169.6" textLength="14.13" lengthAdjust="spacingAndGlyphs">75</tspan><tspan x="183.73" textLength="5.55" lengthAdjust="spacingAndGlyphs">°</tspan><tspan x="189.28" textLength="7.02" lengthAdjust="spacingAndGlyphs">E</tspan></text>
<text y="864.6" font-size="12.26"><tspan x="221.7" textLength="14.13" lengthAdjust="spacingAndGlyphs">80</tspan><tspan x="235.83" textLength="5.55" lengthAdjust="spacingAndGlyphs">°</tspan><tspan x="241.38" textLength="7.02" lengthAdjust="spacingAndGlyphs">E</tspan></text>
<text y="864.6" font-size="12.26"><tspan x="273.8" textLength="14.13" lengthAdjust="spacingAndGlyphs">85</tspan><tspan x="287.93" textLength="5.55" lengthAdjust="spacingAndGlyphs">°</tspan><tspan x="293.48" textLength="7.02" lengthAdjust="spacingAndGlyphs">E</tspan></text>
<text y="864.6" font-size="12.26"><tspan x="325.9" textLength="14.13" lengthAdjust="spacingAndGlyphs">90</tspan><tspan x="340.03" textLength="5.55" lengthAdjust="spacingAndGlyphs">°</tspan><tspan x="345.58" textLength="7.02" lengthAdjust="spacingAndGlyphs">E</tspan></text>
<text y="864.6" font-size="12.26"><tspan x="378" textLength="14.13" lengthAdjust="spacingAndGlyphs">95</tspan><tspan x="392.13" textLength="5.55" lengthAdjust="spacingAndGlyphs">°</tspan><tspan x="397.68" textLength="7.02" lengthAdjust="spacingAndGlyphs">E</tspan></text>
<text y="864.6" font-size="12.26"><tspan x="426.56" textLength="21.2" lengthAdjust="spacingAndGlyphs">100</tspan><tspan x="447.76" textLength="5.55" lengthAdjust="spacingAndGlyphs">°</tspan><tspan x="453.32" textLength="7.02" lengthAdjust="spacingAndGlyphs">E</tspan></text>
<text y="864.6" font-size="12.26"><tspan x="478.66" textLength="21.2" lengthAdjust="spacingAndGlyphs">105</tspan><tspan x="499.86" textLength="5.55" lengthAdjust="spacingAndGlyphs">°</tspan><tspan x="505.42" textLength="7.02" lengthAdjust="spacingAndGlyphs">E</tspan></text>
<text y="864.6" font-size="12.26"><tspan x="530.76" textLength="21.2" lengthAdjust="spacingAndGlyphs">110</tspan><tspan x="551.96" textLength="5.55" lengthAdjust="spacingAndGlyphs">°</tspan><tspan x="557.52" textLength="7.02" lengthAdjust="spacingAndGlyphs">E</tspan></text>
<text y="373.75" font-size="12.26"><tspan x="27.36" textLength="14.13" lengthAdjust="spacingAndGlyphs">20</tspan><tspan x="41.5" textLength="5.55" lengthAdjust="spacingAndGlyphs">°</tspan><tspan x="47.05" textLength="7.05" lengthAdjust="spacingAndGlyphs">S</tspan></text>
<text y="425.75" font-size="12.26"><tspan x="27.36" textLength="14.13" lengthAdjust="spacingAndGlyphs">25</tspan><tspan x="41.5" textLength="5.55" lengthAdjust="spacingAndGlyphs">°</tspan><tspan x="47.05" textLength="7.05" lengthAdjust="spacingAndGlyphs">S</tspan></text>
<text y="477.75" font-size="12.26"><tspan x="27.36" textLength="14.13" lengthAdjust="spacingAndGlyphs">30</tspan><tspan x="41.5" textLength="5.55" lengthAdjust="spacingAndGlyphs">°</tspan><tspan x="47.05" textLength="7.05" lengthAdjust="spacingAndGlyphs">S</tspan></text>
<text y="529.75" font-size="12.26"><tspan x="27.36" textLength="14.13" lengthAdjust="spacingAndGlyphs">35</tspan><tspan x="41.5" textLength="5.55" lengthAdjust="spacingAndGlyphs">°</tspan><tspan x="47.05" textLength="7.05" lengthAdjust="spacingAndGlyphs">S</tspan></text>
<text y="581.75" font-size="12.26"><tspan x="27.36" textLength="14.13" lengthAdjust="spacingAndGlyphs">40</tspan><tspan x="41.5" textLength="5.55" lengthAdjust="spacingAndGlyphs">°</tspan><tspan x="47.05" textLength="7.05" lengthAdjust="spacingAndGlyphs">S</tspan></text>
<text y="633.75" font-size="12.26"><tspan x="27.36" textLength="14.13" lengthAdjust="spacingAndGlyphs">45</tspan><tspan x="41.5" textLength="5.55" lengthAdjust="spacingAndGlyphs">°</tspan><tspan x="47.05" textLength="7.05" lengthAdjust="spacingAndGlyphs">S</tspan></text>
<text y="685.75" font-size="12.26"><tspan x="27.36" textLength="14.13" lengthAdjust="spacingAndGlyphs">50</tspan><tspan x="41.5" textLength="5.55" lengthAdjust="spacingAndGlyphs">°</tspan><tspan x="47.05" textLength="7.05" lengthAdjust="spacingAndGlyphs">S</tspan></text>
<text y="737.75" font-size="12.26"><tspan x="27.36" textLength="14.13" lengthAdjust="spacingAndGlyphs">55</tspan><tspan x="41.5" textLength="5.55" lengthAdjust="spacingAndGlyphs">°</tspan><tspan x="47.05" textLength="7.05" lengthAdjust="spacingAndGlyphs">S</tspan></text>
<text y="789.75" font-size="12.26"><tspan x="27.36" textLength="14.13" lengthAdjust="spacingAndGlyphs">60</tspan><tspan x="41.5" textLength="5.55" lengthAdjust="spacingAndGlyphs">°</tspan><tspan x="47.05" textLength="7.05" lengthAdjust="spacingAndGlyphs">S</tspan></text>
<text y="841.75" font-size="12.26"><tspan x="27.36" textLength="14.13" lengthAdjust="spacingAndGlyphs">65</tspan><tspan x="41.5" textLength="5.55" lengthAdjust="spacingAndGlyphs">°</tspan><tspan x="47.05" textLength="7.05" lengthAdjust="spacingAndGlyphs">S</tspan></text>
<path d="M72 348.2h25.9" stroke="#222222" stroke-width="3.4" fill="none"/>
<text x="105.9" y="352.2" font-size="12.26" textLength="28.47" lengthAdjust="spacingAndGlyphs">BEST</text>
<path d="M72 362.4h25.9" stroke="#e41a1c" stroke-width="3.4" fill="none"/>
<text x="105.9" y="366.4" font-size="12.26" textLength="21.85" lengthAdjust="spacingAndGlyphs">GFS</text>
<path d="M72 376.6h25.9" stroke="#377eb8" stroke-width="3.4" fill="none"/>
<text x="105.9" y="380.6" font-size="12.26" textLength="33.44" lengthAdjust="spacingAndGlyphs">HWRF</text>
<path d="M72 390.8h25.9" stroke="#777777" stroke-width="3.4" fill="none"/>
<text x="105.9" y="394.8" font-size="12.26" textLength="28.8" lengthAdjust="spacingAndGlyphs">JTWC</text>
<text x="527.55" y="355.3" font-size="14.72" font-weight="bold" textLength="41.65" lengthAdjust="spacingAndGlyphs">Track</text>
<defs><linearGradient id="lg" x1="0" y1="0" x2="0" y2="1"><stop offset="0" stop-color="#1c3c85"/><stop offset="0.45" stop-color="#1a5fa8"/><stop offset="1" stop-color="#1f3a84"/></linearGradient><linearGradient id="la" x1="0" y1="0" x2="0" y2="1"><stop offset="0" stop-color="#1d57a0"/><stop offset="0.55" stop-color="#1c5aa4"/><stop offset="1" stop-color="#243a86"/></linearGradient><linearGradient id="eg" x1="0" y1="0" x2="1" y2="0"><stop offset="0" stop-color="#d5dcd8"/><stop offset="0.27" stop-color="#8fa596"/><stop offset="0.47" stop-color="#466fb8"/><stop offset="0.72" stop-color="#3f57b8"/><stop offset="1" stop-color="#4a48ac"/></linearGradient><clipPath id="cc"><rect x="0" y="860" width="24.6" height="40"/></clipPath><clipPath id="ec"><ellipse cx="17.4" cy="882.6" rx="8.1" ry="9.1"/></clipPath></defs>
<g id="logo">
<ellipse cx="17.5" cy="882.4" rx="12.25" ry="12.2" fill="#1b3b84" clip-path="url(#cc)"/>
<ellipse cx="17.4" cy="882.6" rx="8.1" ry="9.1" fill="url(#eg)"/>
<g clip-path="url(#ec)"><path d="M11 874.500q3.500-1.600 6.500-.4q-1.600 2.600-4.200 3.400q-2.200 1.600-3.300 .4z" fill="#5d7a4e" opacity="0.85"/><path d="M9.400 879q2.800-1.200 4.600 .6q1.400 2.400 4.200 3.200q-2.600 1-5 .2q-2.600 1.400-4-.6z" fill="#eef2f4" opacity="0.85"/><path d="M11.200 886.500q2.400-.8 4 1q-1.200 2.600-3 2.400q-1.400-1.400-1-3.400z" fill="#35573c" opacity="0.8"/><path d="M15.500 880.500l3.400-3.800l.8 .6l-2.600 4.200l-1.200 5.500l-.8-.2z" fill="#3d9ad6" opacity="0.7"/><path d="M15.500 881.500l1.800 2l-1.200 2.200l-2-1.800z" fill="#1c2a66" opacity="0.7"/></g>
<rect x="27.25" y="870.3" width="4.8" height="24.2" fill="url(#lg)"/>
<path d="M36.700 870.300h7.500a6 6.900 0 0 1 1.700 13.500l7.400 10.700h-5.400l-7-10.200v10.200h-4.200z" fill="url(#lg)"/>
<path d="M40.300 873.600l1.300-.4l1.500 3.400l-1.300 .5zM42.300 877.600l2.200 2l-1.700 1.700l-1.200-2.600z" fill="#cfe3ea" opacity="0.85"/>
<path d="M62.750 870.500l11.500 24h-24.300l2.400-3.200z" fill="url(#la)"/>
<path d="M57.400 884.900l7.700-2.200l-1.900 7.500zM61.300 887.800l3.500 6.700h-4.600z" fill="#e6eaf0"/>
<clipPath id="rc"><circle cx="90" cy="883" r="15"/></clipPath>
<g clip-path="url(#rc)"><rect x="74" y="867" width="32" height="32" fill="#1e88d0"/><path d="M74 888.500l2-1.300l6.500-4.500l2 .3l2.500 2l2.200-.2l3.800-3.600l2.500 .6l4.500 4.200l2.500-.4l3.500 .8v13h-32z" fill="#35389a"/><path d="M77 892.200q12-4.200 25-1.200" stroke="#e9eefb" stroke-width="0.9" fill="none"/><path d="M78.500 893.200q11-3.400 22-1.400" stroke="#aab4e6" stroke-width="0.6" fill="none"/><path d="M79.400 879.200l1.500-1.300h4.800l1.300 1.300l-1.400 1.400h-4.800z" fill="#e8f2fa"/><path d="M88.400 876.600l2.400-1.900h6.400l2.400 1.900l-2.300 2h-6.600z" fill="#e8f2fa"/><path d="M100.300 891.200l2.900-4l.8 .5l-2.300 4.200z" fill="#f2f6fb"/></g>
<text x="82.25" y="894.9" font-size="3.92" font-weight="bold" fill="#dfe5f7" textLength="15.9" lengthAdjust="spacingAndGlyphs">RAMMB</text>
</g>
</svg>
</body></html>
